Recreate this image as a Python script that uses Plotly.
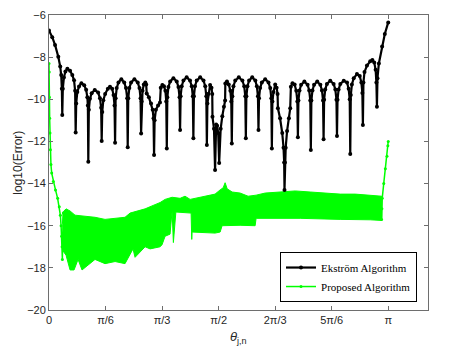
import numpy as np
import plotly.graph_objects as go

PI = np.pi

# Ekström algorithm: log10(error) vs theta (rad)
theta_ek = [
    0.0, 0.03, 0.056, 0.086, 0.104, 0.113, 0.119, 0.123,
    0.128, 0.138, 0.152, 0.170, 0.195, 0.216, 0.232, 0.242, 0.247,
    0.252, 0.262, 0.278, 0.300, 0.326, 0.344, 0.355, 0.360, 0.364,
    0.369, 0.379, 0.395, 0.424, 0.455, 0.472, 0.483, 0.488,
    0.493, 0.503, 0.520, 0.545, 0.565, 0.585, 0.598, 0.607, 0.612,
    0.617, 0.627, 0.643, 0.670, 0.697, 0.713, 0.724, 0.729,
    0.734, 0.744, 0.760, 0.791, 0.822, 0.838, 0.848, 0.853,
    0.858, 0.866, 0.878, 0.892, 0.900, 0.905, 0.925, 0.945, 0.960, 0.968, 0.973,
    0.978, 0.990, 1.010, 1.028, 1.035, 1.050, 1.065, 1.078, 1.086, 1.091,
    1.096, 1.106, 1.122, 1.152, 1.183, 1.199, 1.209, 1.214,
    1.219, 1.229, 1.245, 1.275, 1.306, 1.322, 1.332, 1.337,
    1.342, 1.352, 1.368, 1.400, 1.431, 1.447, 1.457, 1.462,
    1.467, 1.477, 1.492, 1.505, 1.512, 1.514,
    1.528, 1.538, 1.548, 1.557, 1.567, 1.576,
    1.590, 1.605, 1.620, 1.631, 1.633, 1.648, 1.665, 1.680, 1.688, 1.693,
    1.698, 1.708, 1.725, 1.758, 1.791, 1.808, 1.818, 1.823,
    1.828, 1.838, 1.853, 1.882, 1.911, 1.925, 1.935, 1.940,
    1.945, 1.955, 1.971, 2.002, 2.033, 2.049, 2.059, 2.064,
    2.069, 2.079, 2.095, 2.108, 2.117, 2.120, 2.140, 2.160, 2.172, 2.178, 2.181,
    2.185, 2.192, 2.205, 2.222, 2.234, 2.240, 2.255, 2.275, 2.290, 2.300, 2.305,
    2.310, 2.320, 2.335, 2.365, 2.395, 2.410, 2.420, 2.425,
    2.430, 2.440, 2.455, 2.484, 2.513, 2.528, 2.538, 2.543,
    2.548, 2.558, 2.574, 2.605, 2.636, 2.652, 2.662, 2.667,
    2.672, 2.682, 2.698, 2.730, 2.760, 2.775, 2.785, 2.790,
    2.795, 2.805, 2.822, 2.852, 2.878, 2.893, 2.902, 2.907,
    2.912, 2.922, 2.945, 2.975, 2.995, 3.012, 3.025, 3.032, 3.037,
    3.042, 3.055, 3.085, 3.110, 3.1416,
]
err_ek = [
    -6.74, -7.05, -7.42, -7.98, -8.45, -8.85, -9.5, -10.75,
    -9.5, -8.97, -8.68, -8.55, -8.65, -8.85, -9.1, -9.6, -11.58,
    -10.2, -9.66, -9.39, -9.24, -9.33, -9.55, -9.9, -10.3, -12.96,
    -10.5, -9.98, -9.71, -9.56, -9.68, -9.95, -10.4, -11.98,
    -10.6, -10.05, -9.75, -9.5, -9.4, -9.5, -9.8, -10.3, -12.06,
    -9.95, -9.47, -9.2, -9.05, -9.2, -9.47, -9.95, -12.28,
    -9.95, -9.47, -9.2, -9.05, -9.2, -9.47, -9.95, -11.62,
    -10.1, -9.6, -9.3, -9.2, -9.3, -9.72, -9.9, -10.2, -10.5, -10.9, -12.64,
    -11.0, -10.5, -10.3, -10.15, -9.45, -9.32, -9.38, -9.6, -10.1, -12.33,
    -9.9, -9.42, -9.15, -9.0, -9.15, -9.42, -9.9, -11.46,
    -9.86, -9.38, -9.11, -8.96, -9.11, -9.38, -9.86, -11.85,
    -9.86, -9.38, -9.11, -8.96, -9.11, -9.38, -9.86, -12.17,
    -10.2, -9.74, -9.32, -9.45, -9.75, -10.83,
    -11.4, -13.36, -11.2, -11.25, -11.6, -13.02,
    -11.4, -10.8, -10.35, -10.06, -9.25, -9.16, -9.3, -9.6, -10.1, -12.1,
    -9.86, -9.38, -9.11, -8.96, -9.11, -9.38, -9.86, -11.85,
    -9.86, -9.38, -9.11, -8.96, -9.11, -9.38, -9.86, -11.46,
    -9.95, -9.47, -9.2, -9.05, -9.2, -9.47, -9.95, -12.33,
    -10.1, -9.66, -9.3, -9.45, -9.75, -10.43, -10.9, -11.6, -12.3, -13.0, -14.3,
    -13.0, -12.3, -11.5, -10.9, -10.43, -9.4, -9.24, -9.3, -9.6, -10.1, -11.8,
    -10.06, -9.58, -9.31, -9.16, -9.31, -9.58, -10.06, -12.41,
    -10.06, -9.58, -9.31, -9.16, -9.31, -9.58, -10.06, -11.9,
    -10.02, -9.54, -9.27, -9.12, -9.27, -9.54, -10.02, -11.74,
    -10.02, -9.54, -9.27, -9.12, -9.2, -9.5, -10.0, -12.6,
    -9.8, -9.3, -9.0, -8.8, -8.9, -9.2, -9.7, -11.22,
    -9.2, -8.7, -8.4, -8.2, -8.14, -8.25, -8.6, -9.2, -10.35,
    -9.0, -8.3, -7.5, -6.9, -6.35,
]

# Proposed algorithm: initial decay, noisy band, final rise
theta_pr_start = [0.0, 0.002, 0.004, 0.006, 0.009, 0.013, 0.018, 0.025, 0.04,
                  0.06, 0.08, 0.095, 0.105, 0.112, 0.117, 0.121, 0.124, 0.127, 0.133]
err_pr_start = [-8.3, -8.7, -9.9, -10.9, -11.6, -12.4, -13.1, -13.5, -13.9,
                -14.3, -14.7, -15.1, -15.5, -16.0, -16.5, -17.0, -17.6, -16.6, -15.4]

theta_band_top = [0.125, 0.133, 0.158, 0.195, 0.241, 0.334, 0.426, 0.519, 0.612,
                  0.704, 0.751, 0.816, 0.890, 0.982, 1.029, 1.075, 1.140, 1.214,
                  1.260, 1.307, 1.353, 1.446, 1.538, 1.585, 1.613, 1.631, 1.650,
                  1.696, 1.770, 1.844, 1.918, 2.002, 2.141, 2.280, 2.419, 2.558,
                  2.697, 2.836, 2.975, 3.082]
err_band_top = [-15.9, -15.33, -15.2, -15.3, -15.5, -15.55, -15.6, -15.7, -15.65,
                -15.6, -15.4, -15.3, -15.2, -15.0, -14.9, -14.75, -14.65, -14.7,
                -14.6, -14.75, -14.7, -14.6, -14.5, -14.3, -14.2, -13.96, -14.25,
                -14.4, -14.45, -14.6, -14.55, -14.45, -14.4, -14.35, -14.4, -14.45,
                -14.5, -14.5, -14.55, -14.6]

theta_band_bot = [3.082, 2.975, 2.697, 2.326, 1.918, 1.909, 1.770, 1.603, 1.585,
                  1.538, 1.325, 1.322, 1.316, 1.175, 1.152, 1.140, 1.121, 1.075,
                  1.047, 1.029, 0.936, 0.890, 0.797, 0.778, 0.704, 0.612, 0.519,
                  0.426, 0.306, 0.269, 0.232, 0.195, 0.158, 0.130]
err_band_bot = [-15.75, -15.72, -15.7, -15.65, -15.65, -16.0, -15.98, -16.0, -16.3,
                -16.35, -16.3, -16.65, -15.4, -15.35, -16.8, -15.3, -16.4, -16.5,
                -16.9, -17.0, -17.1, -17.0, -17.5, -17.1, -17.8, -17.7, -17.8,
                -17.6, -18.1, -17.6, -18.1, -18.1, -17.4, -17.2]

theta_pr_end = [3.080, 3.083, 3.086, 3.100, 3.115, 3.130, 3.138, 3.1416]
err_pr_end = [-15.7, -15.2, -14.7, -14.0, -13.3, -12.7, -12.2, -12.0]

tick_vals = [0, PI / 6, PI / 3, PI / 2, 2 * PI / 3, 5 * PI / 6, PI]
tick_text = ['0', 'π/6', 'π/3', 'π/2', '2π/3', '5π/6', 'π']

GREEN = '#00FF00'
TXT = '#262626'
SANS = 'Liberation Sans, Arial'

fig = go.Figure()

fig.add_trace(go.Scatter(
    x=theta_band_top + theta_band_bot, y=err_band_top + err_band_bot,
    mode='lines', fill='toself', fillcolor=GREEN,
    line=dict(color=GREEN, width=1), showlegend=False, hoverinfo='skip'))
fig.add_trace(go.Scatter(
    x=theta_pr_start, y=err_pr_start, mode='lines+markers',
    line=dict(color=GREEN, width=1.5), marker=dict(color=GREEN, size=3),
    name='Proposed Algorithm', legendrank=2))
fig.add_trace(go.Scatter(
    x=theta_pr_end, y=err_pr_end, mode='lines+markers',
    line=dict(color=GREEN, width=1.5), marker=dict(color=GREEN, size=3),
    showlegend=False))
fig.add_trace(go.Scatter(
    x=theta_ek, y=err_ek, mode='lines+markers',
    line=dict(color='black', width=2.2), marker=dict(color='black', size=4),
    name='Ekström Algorithm', legendrank=1))

axis_common = dict(
    showline=True, linecolor='#6e6e6e', linewidth=1, mirror='ticks',
    ticks='inside', ticklen=4, tickcolor='#6e6e6e', showgrid=False,
    zeroline=False, automargin=False,
    tickfont=dict(family=SANS, size=11, color=TXT))

fig.update_xaxes(range=[0, 3.51], tickvals=tick_vals, ticktext=tick_text, **axis_common)
fig.update_yaxes(range=[-20, -6], tickvals=list(range(-20, -5, 2)), **axis_common)

fig.add_annotation(text='<i>θ</i><sub>j,n</sub>', xref='paper', yref='paper',
                   x=0.5, y=-0.092, showarrow=False, yanchor='middle',
                   font=dict(family=SANS, size=13, color=TXT))
fig.add_annotation(text='log10(Error)', xref='paper', yref='paper',
                   x=-0.084, y=0.5, showarrow=False, textangle=-90,
                   xanchor='center', yanchor='middle',
                   font=dict(family=SANS, size=12, color=TXT))

fig.update_layout(
    width=443, height=347,
    margin=dict(l=41, r=23, t=7, b=45),
    plot_bgcolor='white', paper_bgcolor='white',
    legend=dict(x=0.971, y=0.027, xanchor='right', yanchor='bottom',
                bgcolor='white', bordercolor='black', borderwidth=1,
                font=dict(family='Liberation Serif, Times New Roman', size=11, color='black'),
                tracegroupgap=0, itemwidth=30),
)

fig.write_html("out.html")
